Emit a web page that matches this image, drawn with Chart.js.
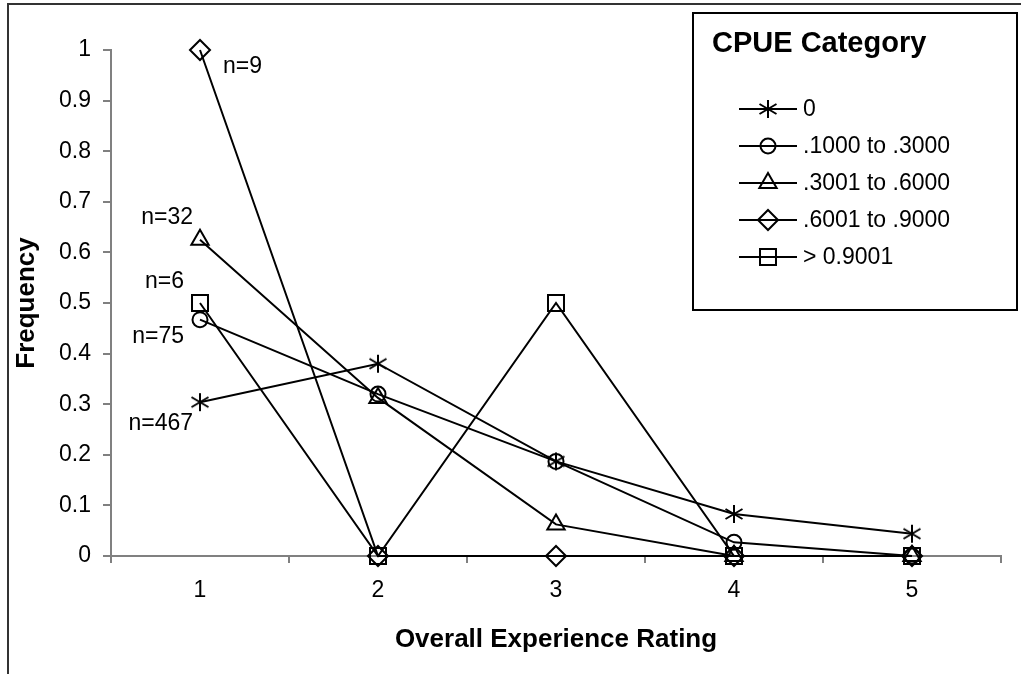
<!DOCTYPE html>
<html>
<head>
<meta charset="utf-8">
<title>CPUE Category - Overall Experience Rating</title>
<script src="https://cdn.jsdelivr.net/npm/chart.js@4.4.1/dist/chart.umd.min.js"></script>
<style>
  html, body { margin: 0; padding: 0; background: #fff; }
  canvas { display: block; }
</style>
</head>
<body>
<canvas id="myChart" width="1021" height="674"></canvas>
<script>
// data
const ratings = ["1", "2", "3", "4", "5"];
const seriesNames = ["0", ".1000 to .3000", ".3001 to .6000", ".6001 to .9000", "> 0.9001"];
const cpue0 = [0.304, 0.38, 0.187, 0.083, 0.044];
const cpue1to3 = [0.467, 0.32, 0.187, 0.027, 0];
const cpue3to6 = [0.625, 0.3125, 0.0625, 0, 0];
const cpue6to9 = [1, 0, 0, 0, 0];
const cpueOver9 = [0.5, 0, 0.5, 0, 0];
const sampleSizes = ["n=467", "n=75", "n=32", "n=9", "n=6"];

const FONT = "'Liberation Sans', Arial, sans-serif";

const makeAsterisk = () => {
    const c = document.createElement("canvas");
    c.width = 20;
    c.height = 20;
    const g = c.getContext("2d");
    g.strokeStyle = "#000";
    g.lineWidth = 2;
    g.beginPath();
    g.moveTo(10, 1); g.lineTo(10, 19);
    g.moveTo(1.5, 5); g.lineTo(18.5, 15);
    g.moveTo(1.5, 15); g.lineTo(18.5, 5);
    g.stroke();
    return c;
};
const asterisk = makeAsterisk();

const markers = [
    { pointStyle: asterisk, radius: 9 },
    { pointStyle: "circle", radius: 7.5 },
    { pointStyle: "triangle", radius: 10 },
    { pointStyle: "rectRot", radius: 10 },
    { pointStyle: "rect", radius: 11.3 },
];
const seriesValues = [cpue0, cpue1to3, cpue3to6, cpue6to9, cpueOver9];

// where the n= labels sit relative to the first point of each series
const nLabelPlace = [
    { dx: -7, dy: 21, align: "right" },
    { dx: -16, dy: 17, align: "right" },
    { dx: -7, dy: -22, align: "right" },
    { dx: 23, dy: 17, align: "left" },
    { dx: -16, dy: -21, align: "right" },
];

const framePlugin = {
    id: "frame",
    beforeDraw: (chart) => {
        const ctx = chart.ctx;
        ctx.save();
        ctx.strokeStyle = "#333";
        ctx.lineWidth = 2;
        ctx.beginPath();
        ctx.moveTo(8, chart.height);
        ctx.lineTo(8, 4);
        ctx.lineTo(chart.width, 4);
        ctx.stroke();
        ctx.restore();
    },
};

const notesPlugin = {
    id: "notes",
    afterDatasetsDraw: (chart) => {
        const ctx = chart.ctx;
        ctx.save();
        ctx.fillStyle = "#000";
        ctx.font = "23px " + FONT;
        ctx.textBaseline = "middle";
        sampleSizes.forEach((txt, i) => {
            const pt = chart.getDatasetMeta(i).data[0];
            const p = nLabelPlace[i];
            ctx.textAlign = p.align;
            ctx.fillText(txt, pt.x + p.dx, pt.y + p.dy);
        });
        ctx.restore();
    },
};

const boxLegendPlugin = {
    id: "boxLegend",
    afterDraw: (chart) => {
        const ctx = chart.ctx;
        ctx.save();
        ctx.fillStyle = "#fff";
        ctx.fillRect(693, 13, 324, 297);
        ctx.strokeStyle = "#000";
        ctx.lineWidth = 2;
        ctx.strokeRect(693, 13, 324, 297);

        ctx.fillStyle = "#000";
        ctx.textBaseline = "middle";
        ctx.textAlign = "left";
        ctx.font = "bold 29px " + FONT;
        ctx.fillText("CPUE Category", 712, 44);

        ctx.font = "23px " + FONT;
        chart.data.datasets.forEach((ds, i) => {
            const y = 109 + i * 37;
            ctx.strokeStyle = "#000";
            ctx.lineWidth = 2;
            ctx.beginPath();
            ctx.moveTo(739, y);
            ctx.lineTo(797, y);
            ctx.stroke();
            ctx.fillStyle = "rgba(0,0,0,0)";
            Chart.helpers.drawPoint(ctx, {
                pointStyle: ds.pointStyle,
                radius: ds.pointRadius,
                rotation: 0,
                borderWidth: 2,
            }, 768, y);
            ctx.fillStyle = "#000";
            ctx.fillText(ds.label, 803, y + 1);
        });
        ctx.restore();
    },
};

const renderChart = () => {
    const ctx = document.getElementById("myChart");
    new Chart(ctx, {
        type: "line",
        data: {
            labels: ratings,
            datasets: seriesValues.map((vals, i) => ({
                label: seriesNames[i],
                data: vals,
                borderColor: "#000",
                borderWidth: 2,
                pointStyle: markers[i].pointStyle,
                pointRadius: markers[i].radius,
                pointBorderColor: "#000",
                pointBackgroundColor: "rgba(0,0,0,0)",
                pointBorderWidth: 2,
                tension: 0,
                fill: false,
                clip: false,
            })),
        },
        options: {
            responsive: false,
            animation: false,
            layout: { padding: { left: 8, top: 50, right: 20, bottom: 0 } },
            plugins: {
                legend: { display: false },
                tooltip: { enabled: false },
                title: { display: false },
            },
            scales: {
                x: {
                    type: "category",
                    offset: true,
                    afterFit: (scale) => { scale.height = 118; },
                    grid: {
                        offset: true,
                        drawOnChartArea: false,
                        tickLength: 7,
                        color: "#808080",
                        lineWidth: 2,
                    },
                    border: { color: "#808080", width: 2 },
                    ticks: {
                        color: "#000",
                        padding: 14,
                        font: { family: FONT, size: 23 },
                    },
                    title: {
                        display: true,
                        text: "Overall Experience Rating",
                        color: "#000",
                        font: { family: FONT, size: 26, weight: "bold" },
                        padding: { top: 4, bottom: 19 },
                    },
                },
                y: {
                    min: 0,
                    max: 1,
                    afterFit: (scale) => { scale.width = 103; },
                    grid: {
                        drawOnChartArea: false,
                        tickLength: 8,
                        color: "#808080",
                        lineWidth: 2,
                    },
                    border: { color: "#808080", width: 2 },
                    ticks: {
                        stepSize: 0.1,
                        color: "#000",
                        padding: 12,
                        font: { family: FONT, size: 23 },
                        callback: (v) => String(Number(v.toFixed(1))),
                    },
                    title: {
                        display: true,
                        text: "Frequency",
                        color: "#000",
                        font: { family: FONT, size: 26, weight: "bold" },
                        padding: { top: 3, bottom: 4 },
                    },
                },
            },
        },
        plugins: [framePlugin, notesPlugin, boxLegendPlugin],
    });
};

renderChart();
</script>
</body>
</html>
